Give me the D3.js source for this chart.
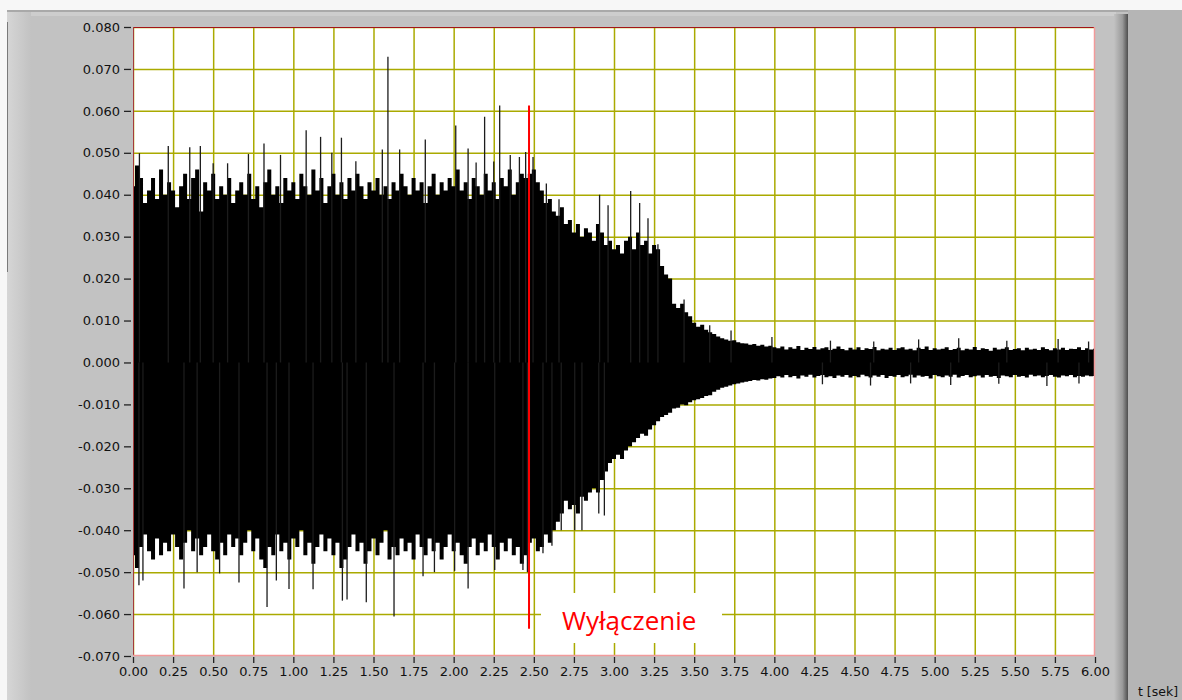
<!DOCTYPE html>
<html>
<head>
<meta charset="utf-8">
<script src="https://cdn.jsdelivr.net/npm/d3@7"></script>
<style>
  body { margin: 0; background: #c2c2c2; overflow: hidden; }
  svg { display: block; }
</style>
</head>
<body>
<svg id="chart" width="1182" height="700"></svg>
<script>
// sample step of the envelope, seconds
const step = 0.025;

// upper envelope of the signal, one value per step (0.00 .. 6.00 s)
const upper = [
  0.042,0.047,0.044,0.038,0.041,0.044,0.039,0.046,0.040,0.043,
  0.041,0.037,0.042,0.045,0.039,0.044,0.046,0.036,0.043,0.041,
  0.045,0.039,0.042,0.040,0.044,0.038,0.041,0.043,0.040,0.045,
  0.039,0.042,0.037,0.043,0.046,0.040,0.042,0.038,0.044,0.041,
  0.043,0.039,0.045,0.042,0.040,0.046,0.041,0.044,0.038,0.042,
  0.045,0.040,0.043,0.039,0.044,0.041,0.045,0.042,0.039,0.043,
  0.041,0.044,0.040,0.042,0.039,0.043,0.041,0.045,0.042,0.040,
  0.044,0.041,0.043,0.038,0.042,0.045,0.040,0.043,0.041,0.044,
  0.042,0.046,0.041,0.043,0.039,0.044,0.042,0.040,0.045,0.041,
  0.043,0.039,0.044,0.042,0.046,0.040,0.043,0.045,0.044,0.045,
  0.046,0.043,0.041,0.038,0.039,0.036,0.035,0.037,0.033,0.034,
  0.031,0.033,0.030,0.032,0.031,0.029,0.033,0.031,0.028,0.029,
  0.027,0.028,0.026,0.029,0.030,0.027,0.031,0.028,0.029,0.026,
  0.028,0.027,0.023,0.021,0.020,0.014,0.013,0.014,0.012,0.011,
  0.0095,0.0085,0.009,0.0078,0.0072,0.0068,0.0062,0.0058,0.0055,0.0052,
  0.0053,0.0048,0.0046,0.0045,0.0042,0.0044,0.0040,0.0042,0.0038,0.0040,
  0.0036,0.0034,0.0038,0.0031,0.0036,0.0033,0.0039,0.0030,0.0035,0.0032,
  0.0037,0.0031,0.0034,0.0036,0.0030,0.0033,0.0038,0.0032,0.0029,0.0035,
  0.0031,0.0036,0.0030,0.0034,0.0032,0.0037,0.0029,0.0033,0.0031,0.0035,
  0.0030,0.0034,0.0036,0.0031,0.0033,0.0029,0.0035,0.0032,0.0038,0.0030,
  0.0034,0.0031,0.0033,0.0036,0.0030,0.0032,0.0035,0.0029,0.0033,0.0031,
  0.0037,0.0030,0.0034,0.0032,0.0028,0.0035,0.0031,0.0033,0.0036,0.0030,
  0.0032,0.0034,0.0029,0.0035,0.0031,0.0033,0.0030,0.0036,0.0032,0.0029,
  0.0034,0.0031,0.0035,0.0030,0.0033,0.0032,0.0036,0.0030,0.0034,0.0031,
  0.0033
];

// lower envelope, same steps
const lower = [
  -0.046,-0.049,-0.044,-0.041,-0.045,-0.047,-0.042,-0.046,-0.043,-0.045,
  -0.041,-0.044,-0.047,-0.043,-0.040,-0.045,-0.042,-0.046,-0.044,-0.041,
  -0.045,-0.047,-0.043,-0.046,-0.041,-0.044,-0.042,-0.046,-0.043,-0.040,
  -0.045,-0.042,-0.047,-0.049,-0.044,-0.046,-0.041,-0.045,-0.043,-0.047,
  -0.042,-0.044,-0.040,-0.046,-0.043,-0.048,-0.044,-0.041,-0.045,-0.042,
  -0.046,-0.043,-0.049,-0.047,-0.044,-0.041,-0.045,-0.043,-0.048,-0.045,
  -0.042,-0.046,-0.043,-0.040,-0.047,-0.044,-0.046,-0.042,-0.045,-0.043,
  -0.047,-0.041,-0.044,-0.046,-0.042,-0.045,-0.043,-0.047,-0.044,-0.041,
  -0.045,-0.043,-0.046,-0.048,-0.044,-0.042,-0.046,-0.043,-0.045,-0.041,
  -0.044,-0.047,-0.043,-0.045,-0.042,-0.046,-0.044,-0.048,-0.046,-0.043,
  -0.042,-0.045,-0.044,-0.041,-0.043,-0.040,-0.038,-0.036,-0.033,-0.035,
  -0.034,-0.036,-0.032,-0.033,-0.031,-0.030,-0.031,-0.028,-0.026,-0.024,
  -0.023,-0.022,-0.023,-0.021,-0.020,-0.019,-0.018,-0.017,-0.0175,-0.016,
  -0.015,-0.014,-0.013,-0.0125,-0.012,-0.011,-0.0108,-0.010,-0.0102,-0.0095,
  -0.009,-0.0088,-0.0085,-0.008,-0.0078,-0.007,-0.0065,-0.006,-0.0058,-0.0055,
  -0.0052,-0.005,-0.0048,-0.0046,-0.0044,-0.0042,-0.0043,-0.0040,-0.0041,-0.0038,
  -0.0037,-0.0033,-0.0036,-0.0030,-0.0035,-0.0032,-0.0038,-0.0031,-0.0034,-0.0029,
  -0.0036,-0.0032,-0.0030,-0.0035,-0.0033,-0.0037,-0.0031,-0.0034,-0.0030,-0.0036,
  -0.0032,-0.0035,-0.0029,-0.0033,-0.0036,-0.0031,-0.0034,-0.0030,-0.0037,-0.0032,
  -0.0034,-0.0030,-0.0035,-0.0033,-0.0029,-0.0036,-0.0031,-0.0034,-0.0032,-0.0038,
  -0.0030,-0.0033,-0.0035,-0.0031,-0.0034,-0.0029,-0.0036,-0.0032,-0.0030,-0.0035,
  -0.0033,-0.0031,-0.0036,-0.0030,-0.0034,-0.0032,-0.0037,-0.0031,-0.0033,-0.0035,
  -0.0030,-0.0034,-0.0032,-0.0036,-0.0029,-0.0033,-0.0031,-0.0035,-0.0032,-0.0030,
  -0.0034,-0.0036,-0.0031,-0.0033,-0.0030,-0.0035,-0.0032,-0.0034,-0.0031,-0.0033,
  -0.0032
];

// tallest single peaks [t, value]
const peaksUp = [
  [0.04,0.0499],[0.22,0.0516],[0.354,0.0513],[0.42,0.0516],[0.50,0.0475],[0.59,0.0475],
  [0.72,0.0497],[0.817,0.0522],[0.92,0.0495],[1.08,0.0554],[1.17,0.0538],[1.24,0.0500],
  [1.30,0.0536],[1.39,0.0480],[1.555,0.0508],[1.59,0.0729],[1.663,0.0508],[1.823,0.0532],
  [2.013,0.0565],[2.09,0.0510],[2.14,0.0477],[2.193,0.0586],[2.25,0.0479],[2.287,0.0613],
  [2.353,0.0495],[2.41,0.0490],[2.449,0.0502],[2.495,0.0490],[2.578,0.0427],[2.657,0.0389],
  [2.91,0.0400],[2.963,0.0375],[3.104,0.0409],[3.16,0.0380],[3.212,0.0344],[3.274,0.0282],
  [3.437,0.0150],[3.597,0.0089],[3.73,0.0076],[3.985,0.0061],
  [4.35,0.0052],[4.62,0.0050],[4.90,0.0055],[5.15,0.0058],[5.45,0.0052],[5.77,0.0056],[5.96,0.0050]
];
const peaksDown = [
  [0.037,-0.0531],[0.062,-0.0520],[0.318,-0.0539],[0.40,-0.0500],[0.54,-0.0503],[0.661,-0.0525],
  [0.836,-0.0583],[0.894,-0.0520],[0.973,-0.0540],[1.123,-0.0541],[1.306,-0.0568],[1.335,-0.0565],
  [1.455,-0.0572],[1.628,-0.0606],[1.809,-0.0510],[1.88,-0.0500],[2.006,-0.0497],[2.09,-0.0539],
  [2.256,-0.0495],[2.432,-0.0495],[2.46,-0.0500],[2.557,-0.0455],[2.613,-0.0437],[2.671,-0.0400],
  [2.755,-0.0400],[2.80,-0.0400],[2.905,-0.0360],[2.94,-0.0365],
  [4.30,-0.0052],[4.60,-0.0055],[4.85,-0.0050],[5.10,-0.0054],[5.40,-0.0051],[5.70,-0.0056],[5.90,-0.0050]
];

const xTicks = [0,0.25,0.5,0.75,1,1.25,1.5,1.75,2,2.25,2.5,2.75,3,3.25,3.5,3.75,4,4.25,4.5,4.75,5,5.25,5.5,5.75,6];
const yTicks = [-0.07,-0.06,-0.05,-0.04,-0.03,-0.02,-0.01,0,0.01,0.02,0.03,0.04,0.05,0.06,0.07,0.08];

const switchOff = { t: 2.47, from: 0.0613, to: -0.0635, label: "Wyłączenie" };

const svg = d3.select("#chart");
const W = 1182, H = 700;
const pL = 133, pR = 1095, pT = 27, pB = 656;

const x = d3.scaleLinear().domain([0, 6]).range([pL, pR]);
const y = d3.scaleLinear().domain([-0.07, 0.08]).range([pB, pT]);

// --- window frame ---
svg.append("rect").attr("width", W).attr("height", H).attr("fill", "#c2c2c2");
svg.append("rect").attr("width", W).attr("height", 10).attr("fill", "#f7f7f7");
svg.append("rect").attr("y", 10).attr("width", 7).attr("height", H - 10).attr("fill", "#f7f7f7");
svg.append("rect").attr("x", 7).attr("y", 10).attr("width", 1121).attr("height", 2).attr("fill", "#a9a9a9");
svg.append("rect").attr("x", 8).attr("y", 12).attr("width", 1108).attr("height", 4).attr("fill", "#cdcdcd");

const defs = svg.append("defs");
const lg = defs.append("linearGradient").attr("id", "lside");
lg.append("stop").attr("offset", "0").attr("stop-color", "#d6d6d6");
lg.append("stop").attr("offset", "1").attr("stop-color", "#c2c2c2");
svg.append("rect").attr("x", 7).attr("y", 12).attr("width", 24).attr("height", H - 12).attr("fill", "url(#lside)");
svg.append("rect").attr("x", 7).attr("y", 22).attr("width", 1).attr("height", 250).attr("fill", "#7a7a7a");

const rg = defs.append("linearGradient").attr("id", "rside");
rg.append("stop").attr("offset", "0").attr("stop-color", "#c2c2c2");
rg.append("stop").attr("offset", "0.6").attr("stop-color", "#9a9a9a");
rg.append("stop").attr("offset", "1").attr("stop-color", "#4e4e4e");
svg.append("rect").attr("x", 1114).attr("y", 14).attr("width", 14).attr("height", H - 14).attr("fill", "url(#rside)");
svg.append("rect").attr("x", 1128).attr("y", 10).attr("width", W - 1128).attr("height", H - 10).attr("fill", "#b5b5b5");

// --- plot area ---
svg.append("rect").attr("x", pL).attr("y", pT)
  .attr("width", pR - pL).attr("height", pB - pT).attr("fill", "#fff");

defs.append("clipPath").attr("id", "plot")
  .append("rect").attr("x", pL).attr("y", pT).attr("width", pR - pL).attr("height", pB - pT);

// grid
const grid = svg.append("g").attr("clip-path", "url(#plot)");
grid.append("g")
  .attr("transform", "translate(0," + pB + ")")
  .call(d3.axisBottom(x).tickValues(xTicks).tickSize(-(pB - pT)).tickFormat(""))
  .call(g => g.select(".domain").remove())
  .call(g => g.selectAll("line").attr("stroke", "#aaaa00").attr("stroke-width", 1.5));
grid.append("g")
  .attr("transform", "translate(" + pL + ",0)")
  .call(d3.axisLeft(y).tickValues(yTicks).tickSize(-(pR - pL)).tickFormat(""))
  .call(g => g.select(".domain").remove())
  .call(g => g.selectAll("line").attr("stroke", "#aaaa00").attr("stroke-width", 1.5));

// signal
const t = upper.map((d, i) => i * step);
const sig = svg.append("g").attr("clip-path", "url(#plot)");
sig.append("path")
  .datum(upper)
  .attr("fill", "#000")
  .attr("d", d3.area()
    .x((d, i) => x(t[i]))
    .y0((d, i) => y(lower[i]))
    .y1(d => y(d))
    .curve(d3.curveStep));

sig.selectAll("line.up").data(peaksUp).join("line")
  .attr("class", "up")
  .attr("x1", d => x(d[0])).attr("x2", d => x(d[0]))
  .attr("y1", y(0)).attr("y2", d => y(d[1]))
  .attr("stroke", "#1c1c1c").attr("stroke-width", 1.3);
sig.selectAll("line.down").data(peaksDown).join("line")
  .attr("class", "down")
  .attr("x1", d => x(d[0])).attr("x2", d => x(d[0]))
  .attr("y1", y(0)).attr("y2", d => y(d[1]))
  .attr("stroke", "#1c1c1c").attr("stroke-width", 1.3);

// label box + switch-off marker
svg.append("rect").attr("x", 541).attr("y", 593).attr("width", 181).attr("height", 50).attr("fill", "#fff");
svg.append("line")
  .attr("x1", x(switchOff.t)).attr("x2", x(switchOff.t))
  .attr("y1", y(switchOff.from)).attr("y2", y(switchOff.to))
  .attr("stroke", "#ff0000").attr("stroke-width", 2);
svg.append("text")
  .attr("x", 562).attr("y", 630)
  .attr("fill", "#ff0000")
  .style("font-family", "'Open Sans', 'Noto Sans', sans-serif")
  .style("font-size", "26px")
  .text(switchOff.label);

// plot border
svg.append("line").attr("x1", pL).attr("x2", pR).attr("y1", pT + 0.5).attr("y2", pT + 0.5).attr("stroke", "#a31515");
svg.append("line").attr("x1", pL + 0.5).attr("x2", pL + 0.5).attr("y1", pT).attr("y2", pB).attr("stroke", "#a33a3a");
svg.append("line").attr("x1", pR - 0.5).attr("x2", pR - 0.5).attr("y1", pT).attr("y2", pB).attr("stroke", "#f29a9a").attr("stroke-width", 1.5);
svg.append("line").attr("x1", pL).attr("x2", pR).attr("y1", pB - 0.5).attr("y2", pB - 0.5).attr("stroke", "#f29a9a").attr("stroke-width", 1.5);

// axes
const font = "'DejaVu Sans', Verdana, sans-serif";
svg.append("g")
  .attr("transform", "translate(131,0)")
  .call(d3.axisLeft(y).tickValues(yTicks).tickSize(7).tickPadding(4).tickFormat(d => d.toFixed(3)))
  .call(g => g.select(".domain").remove())
  .call(g => g.selectAll("line").attr("stroke", "#222").attr("stroke-width", 1.3))
  .call(g => g.selectAll("text").attr("fill", "#111").style("font-family", font).style("font-size", "13px"));

svg.append("g")
  .attr("transform", "translate(0,657)")
  .call(d3.axisBottom(x).tickValues(xTicks).tickSize(6).tickPadding(4).tickFormat(d => d.toFixed(2)))
  .call(g => g.select(".domain").remove())
  .call(g => g.selectAll("line").attr("stroke", "#222").attr("stroke-width", 1.3))
  .call(g => g.selectAll("text").attr("fill", "#111").style("font-family", font).style("font-size", "13px"));

svg.append("text")
  .attr("x", 1138).attr("y", 696)
  .attr("fill", "#111")
  .style("font-family", font).style("font-size", "12.5px")
  .text("t [sek]");
</script>
</body>
</html>
